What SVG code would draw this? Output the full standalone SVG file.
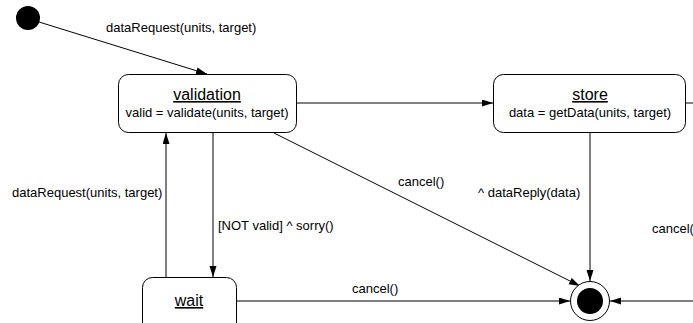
<svg xmlns="http://www.w3.org/2000/svg" width="693" height="323" viewBox="0 0 693 323">
<defs>
<marker id="arr" markerUnits="userSpaceOnUse" markerWidth="12" markerHeight="8" refX="11" refY="3.5" orient="auto">
<path d="M0,0 L11,3.5 L0,7 z" fill="#000"/>
</marker>
<style>
.box{fill:#fff;stroke:#000;stroke-width:1}
.name{font-family:"Liberation Sans",Arial,sans-serif;font-size:16px;text-anchor:middle;text-decoration:underline;fill:#000}
.act{font-family:"Liberation Sans",Arial,sans-serif;font-size:13px;text-anchor:middle;fill:#000}
.lbl{font-family:"Liberation Sans",Arial,sans-serif;font-size:13px;fill:#000}
.edge{fill:none;stroke:#000;stroke-width:1;marker-end:url(#arr)}
.plain{fill:none;stroke:#000;stroke-width:1}
</style>
</defs>
<rect width="693" height="323" fill="#fff"/>
<g id="connectors">
<line class="edge" x1="39" y1="22" x2="207" y2="74"/>
<line class="edge" x1="297" y1="103" x2="493" y2="103"/>
<line class="plain" x1="686" y1="103" x2="693" y2="103"/>
<line class="edge" x1="274" y1="133" x2="580" y2="286"/>
<line class="edge" x1="590" y1="133" x2="590" y2="281"/>
<line class="edge" x1="166" y1="277" x2="166" y2="133"/>
<line class="edge" x1="213" y1="133" x2="213" y2="277"/>
<line class="edge" x1="237" y1="301" x2="570" y2="301"/>
<line class="edge" x1="693" y1="301" x2="610" y2="301"/>
<text class="lbl" x="106" y="32">dataRequest(units, target)</text>
<text class="lbl" x="398" y="186">cancel()</text>
<text class="lbl" x="478" y="197">^ dataReply(data)</text>
<text class="lbl" x="12" y="197">dataRequest(units, target)</text>
<text class="lbl" x="218" y="230">[NOT valid] ^ sorry()</text>
<text class="lbl" x="352" y="293">cancel()</text>
<text class="lbl" x="652" y="233">cancel()</text>
</g>
<g id="initial">
<circle cx="28" cy="18" r="12" fill="#000"/>
</g>
<g id="validation">
<rect class="box" x="118.5" y="74.5" width="178" height="58" rx="10" ry="10"/>
<text class="name" x="207" y="100">validation</text>
<text class="act" x="207" y="117">valid = validate(units, target)</text>
</g>
<g id="store">
<rect class="box" x="493.5" y="74.5" width="192" height="58" rx="10" ry="10"/>
<text class="name" x="590" y="100">store</text>
<text class="act" x="590" y="117">data = getData(units, target)</text>
</g>
<g id="wait">
<rect class="box" x="142.5" y="277.5" width="94" height="60" rx="10" ry="10"/>
<text class="name" x="189" y="306">wait</text>
</g>
<g id="final">
<circle cx="590" cy="301" r="19.5" fill="#fff" stroke="#000" stroke-width="1"/>
<circle cx="590" cy="301" r="13" fill="#000"/>
</g>
</svg>
